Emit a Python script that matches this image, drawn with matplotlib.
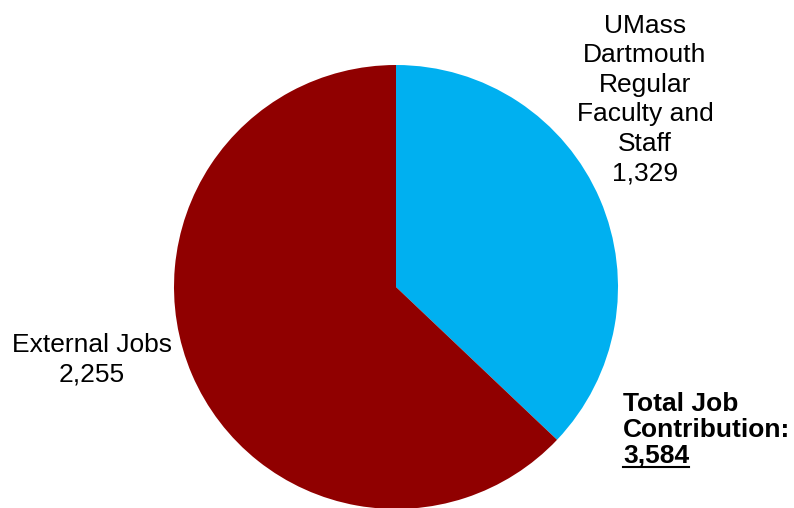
import matplotlib
matplotlib.use("Agg")
import matplotlib.pyplot as plt
from matplotlib.lines import Line2D

# slice data
labels = ["UMass\nDartmouth\nRegular\nFaculty and\nStaff", "External Jobs"]
values = [1329, 2255]
colors = ["#00B0F0", "#900000"]
total = sum(values)

plt.rcParams["font.family"] = ["Liberation Sans", "DejaVu Sans"]

W, H = 794, 508
fig = plt.figure(figsize=(W / 100, H / 100), dpi=100)

# pie centre (396, 287) px, radius 222 px
cx, cy, r = 396, 287, 222
ax = fig.add_axes([(cx - r) / W, (H - cy - r) / H, 2 * r / W, 2 * r / H])
ax.pie(values, colors=colors, startangle=90, counterclock=False,
       wedgeprops={"linewidth": 0})
ax.set_xlim(-1, 1)
ax.set_ylim(-1, 1)
ax.set_aspect("equal")
ax.axis("off")

# slice labels (figure pixel positions)
fig.text(645 / W, 1 - 99.5 / H, f"{labels[0]}\n{values[0]:,}", ha="center",
         va="center", fontsize=19, linespacing=1.29)
fig.text(92 / W, 1 - 360 / H, f"{labels[1]}\n{values[1]:,}", ha="center",
         va="center", fontsize=19, linespacing=1.29)

# total label
fig.text(623 / W, 1 - 437 / H, "Total Job\nContribution:", ha="left",
         va="baseline", fontsize=19, fontweight="bold", linespacing=1.09)
t = fig.text(623 / W, 1 - 463 / H, f"{total:,}", ha="left", va="baseline",
             fontsize=19, fontweight="bold")

fig.canvas.draw()
bb = t.get_window_extent()
uy = (H - 467) / H
fig.add_artist(Line2D([bb.x0 / W, bb.x1 / W], [uy, uy], color="black",
                      linewidth=1.5, transform=fig.transFigure))

fig.savefig("out.png", dpi=100)
